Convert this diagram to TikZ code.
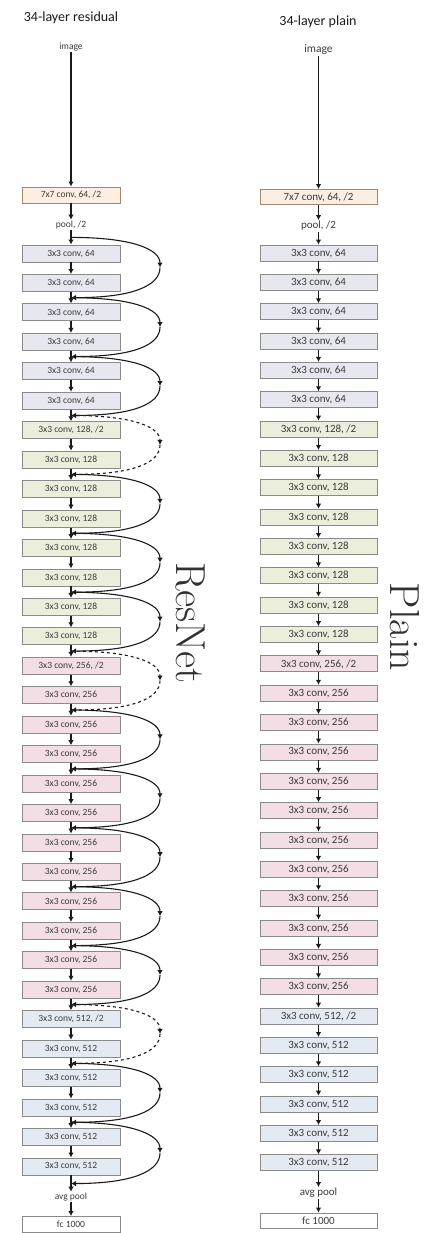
\documentclass[tikz,border=0pt]{standalone}
\usepackage{fontspec}
\newfontfamily\calib{Carlito}
\usetikzlibrary{arrows.meta,positioning,calc}
\definecolor{boxline}{HTML}{8A8A8A}
\definecolor{ink}{HTML}{1A1A1A}
\definecolor{convseven}{HTML}{FCEEE3}
\definecolor{convsixfour}{HTML}{E7E7EF}
\definecolor{convonetwo}{HTML}{ECEEDC}
\definecolor{convtwofive}{HTML}{F2DEE4}
\definecolor{convfiveone}{HTML}{E4EAF2}

\begin{document}
\begin{tikzpicture}[x=1pt,y=-1pt,
  box/.style={draw=boxline,line width=0.9pt,minimum height=17pt,inner sep=0pt,text=ink!85},
  lbl/.style={inner sep=1pt,text=ink!85},
  arr/.style={-{Latex[length=5pt,width=5.5pt]},draw=ink,line width=1.1pt},
  skipline/.style={-{Latex[length=5pt,width=5.5pt]},draw=ink,line width=1.1pt},
  proj/.style={skipline,dashed},
  big/.style={rotate=-90,font=\fontsize{42}{42}\selectfont,text=ink!90}]
\useasboundingbox (0,0) rectangle (430,1233);
% titles
\node[font=\calib\fontsize{14}{14}\selectfont,text=ink] (tl) at (71,18) {34-layer residual};
\node[font=\calib\fontsize{14}{14}\selectfont,text=ink] (tr) at (318,22) {34-layer plain};
% residual column: head and tail
\node[lbl,font=\calib\fontsize{9.5}{9.5}\selectfont] (limg) at (71,47) {image};
\node[box,fill=convseven,draw=boxline!80!orange,minimum width=98pt,minimum height=16pt,font=\calib\fontsize{9.5}{9.5}\selectfont] (lconv) at (71,195) {7x7 conv, 64, /2};
\node[lbl,font=\calib\fontsize{9.5}{9.5}\selectfont] (l0) at (71,225) {pool, /2};
\node[lbl,font=\calib\fontsize{9.5}{9.5}\selectfont] (l33) at (71,1197) {avg pool};
\node[box,fill=white,minimum width=98pt,minimum height=16pt,font=\calib\fontsize{9.5}{9.5}\selectfont] (lfc) at (71,1224.5) {fc 1000};
% plain column: head and tail
\node[lbl,font=\calib\fontsize{11.5}{11.5}\selectfont] (rimg) at (318.5,50) {image};
\node[box,fill=convseven,draw=boxline!80!orange,minimum width=117pt,minimum height=15pt,font=\calib\fontsize{11}{11}\selectfont] (rconv) at (318.5,197) {7x7 conv, 64, /2};
\node[lbl,font=\calib\fontsize{11}{11}\selectfont] (r0) at (318.5,226) {pool, /2};
\node[lbl,font=\calib\fontsize{11}{11}\selectfont] (r33) at (318.5,1193) {avg pool};
\node[box,fill=white,minimum width=117pt,minimum height=15pt,font=\calib\fontsize{11}{11}\selectfont] (rfc) at (318.5,1220.5) {fc 1000};
% 3x3 stacks
\foreach \col/\x/\w/\h/\y/\p/\fs in {l/71/98/17/253.5/29.45/9.5, r/318.5/117/16/253/29.35/11}{
  \foreach \first/\n/\ch/\fil in {1/6/64/convsixfour, 7/8/128/convonetwo, 15/12/256/convtwofive, 27/6/512/convfiveone}{
    \foreach \k in {1,...,\n}{
      \pgfmathtruncatemacro\idx{\first+\k-1}
      \node[box,fill=\fil,minimum width=\w pt,minimum height=\h pt,font=\calib\fontsize{\fs}{\fs}\selectfont]
        (\col\idx) at (\x,{\y+(\idx-1)*\p}) {3x3 conv, \ch\ifnum\k=1 \ifnum\ch>64 , /2\fi\fi};
    }
  }
  \draw[arr,line width=1.3pt] (\col img) -- (\col conv);
  \draw[arr] (\col conv) -- (\col0);
  \foreach \i in {0,...,32}{
    \pgfmathtruncatemacro\j{\i+1}
    \draw[arr] (\col\i) -- (\col\j);
  }
  \draw[arr] (\col33) -- (\col fc);
}
% shortcuts
\foreach \k/\sty in {1/skipline,2/skipline,3/skipline,4/proj,5/skipline,6/skipline,7/skipline,8/proj,
                     9/skipline,10/skipline,11/skipline,12/skipline,13/skipline,14/proj,15/skipline,16/skipline}{
  \pgfmathtruncatemacro\a{2*\k-2}
  \pgfmathtruncatemacro\b{2*\k-1}
  \pgfmathtruncatemacro\c{2*\k}
  \pgfmathtruncatemacro\d{2*\k+1}
  \coordinate (s\k) at ($(l\a.south)!0.5!(l\b.north)$);
  \coordinate (e\k) at ($(l\c.south)!0.5!(l\d.north)$);
  \coordinate (m\k) at ($(s\k)!0.5!(e\k)+(89,0)$);
  \draw[\sty] (s\k) .. controls +(62,0) and +(0,-18) .. (m\k);
  \draw[\sty] (m\k) .. controls +(0,18) and +(62,0) .. (e\k);
}
% side labels
\node[big] (resnet) at (191,623) {ResNet};
\node[big] (plain) at (405,627) {Plain};
\end{tikzpicture}
\end{document}
